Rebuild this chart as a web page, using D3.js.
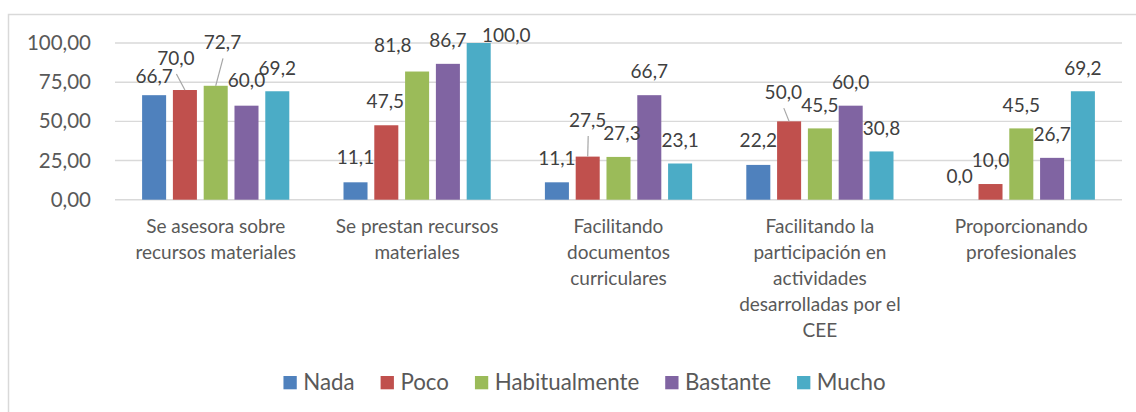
<!DOCTYPE html>
<html>
<head>
<meta charset="utf-8">
<style>
body { margin: 0; background: #fff; }
svg text { font-family: Lato, "Open Sans", sans-serif; }
</style>
</head>
<body>
<svg width="1136" height="412"></svg>
<script src="https://cdn.jsdelivr.net/npm/d3@7/dist/d3.min.js"></script>
<script>

// categories, already split in lines the way the original wraps them
var categoryLines = [
	["Se asesora sobre", "recursos materiales"],
	["Se prestan recursos", "materiales"],
	["Facilitando", "documentos", "curriculares"],
	["Facilitando la", "participación en", "actividades", "desarrolladas por el", "CEE"],
	["Proporcionando", "profesionales"]
];
var categories = categoryLines.map(function(l){ return l.join(" "); });

var series = ["Nada", "Poco", "Habitualmente", "Bastante", "Mucho"];

// values per series, one per category
var nada          = [66.7, 11.1, 11.1, 22.2, 0.0];
var poco          = [70.0, 47.5, 27.5, 50.0, 10.0];
var habitualmente = [72.7, 81.8, 27.3, 45.5, 45.5];
var bastante      = [60.0, 86.7, 66.7, 60.0, 26.7];
var mucho         = [69.2, 100.0, 23.1, 30.8, 69.2];

var yTicks = [0, 25, 50, 75, 100];

var seriesValues = [nada, poco, habitualmente, bastante, mucho];
var colors = ["#4F81BD", "#C0504D", "#9BBB59", "#8064A2", "#4BACC6"];

// labels that excel moved out of the way ("category,series": [dx, dy])
var labelNudge = {
	"0,0": [0, 4.3], "0,1": [-9, -8.5], "0,2": [6.8, -20], "0,3": [0, -2.2],
	"1,0": [0, -1.5], "1,1": [-1, -1], "1,2": [-24.3, -3], "1,4": [27.6, 15.5],
	"2,0": [0, -1], "2,1": [0, -13], "2,2": [3.5, -0.7],
	"3,0": [0, -1], "3,1": [-5.8, -5.7]
};
var leaders = ["0,1", "0,2", "2,1", "3,1"];

var es = d3.formatLocale({decimal: ",", thousands: ".", grouping: [3], currency: ["", " €"]});
var fmtAxis = es.format(".2f");
var fmtLabel = es.format(".1f");

var svg = d3.select("svg");

// chart frame (cut off on the right and bottom like the original)
svg.append("rect")
	.attr("x", 8.5).attr("y", 14.5)
	.attr("width", 1200).attr("height", 500)
	.attr("fill", "none")
	.attr("stroke", "#d9d9d9")
	.attr("stroke-width", 1.5);

var x0 = d3.scaleBand().domain(categories).range([115, 1122]);
var x1 = d3.scaleBand().domain(series).range([0, x0.bandwidth()])
	.paddingInner(0.22).paddingOuter(0.88);
var y = d3.scaleLinear().domain([0, 100]).range([199.7, 43]);

// gridlines
svg.append("g").selectAll("line")
	.data(yTicks)
	.enter().append("line")
	.attr("x1", 115).attr("x2", 1122)
	.attr("y1", function(d){ return y(d); })
	.attr("y2", function(d){ return y(d); })
	.attr("stroke", "#d9d9d9")
	.attr("stroke-width", 1.4);

// y axis labels
var yAxis = svg.append("g")
	.attr("transform", "translate(107,0)")
	.call(d3.axisLeft(y).tickValues(yTicks).tickFormat(fmtAxis).tickSize(0).tickPadding(16));
yAxis.select(".domain").remove();
yAxis.selectAll("text")
	.attr("font-family", "Lato, sans-serif")
	.attr("font-size", "20.5px")
	.attr("fill", "#595959");

// flatten to one record per bar
var bars = [];
categories.forEach(function(c, ci){
	series.forEach(function(s, si){
		bars.push({cat: c, ci: ci, series: s, si: si, value: seriesValues[si][ci]});
	});
});

svg.append("g").selectAll("rect")
	.data(bars)
	.enter().append("rect")
	.attr("x", function(d){ return x0(d.cat) + x1(d.series); })
	.attr("y", function(d){ return y(d.value); })
	.attr("width", x1.bandwidth())
	.attr("height", function(d){ return y(0) - y(d.value); })
	.attr("fill", function(d){ return colors[d.si]; });

// data labels
function labelPos(d){
	var n = labelNudge[d.ci + "," + d.si] || [0, 0];
	var cx = x0(d.cat) + x1(d.series) + x1.bandwidth() / 2;
	return {x: cx + n[0], y: y(d.value) - 23.5 + n[1], bx: cx, by: y(d.value)};
}

svg.append("g").selectAll("line")
	.data(bars.filter(function(d){ return leaders.indexOf(d.ci + "," + d.si) >= 0; }))
	.enter().append("line")
	.attr("x1", function(d){ return labelPos(d).x + 0.5; })
	.attr("y1", function(d){ return labelPos(d).y + 16; })
	.attr("x2", function(d){ return labelPos(d).bx; })
	.attr("y2", function(d){ return labelPos(d).by; })
	.attr("stroke", "#a6a6a6")
	.attr("stroke-width", 1.2);

svg.append("g").selectAll("text")
	.data(bars)
	.enter().append("text")
	.attr("x", function(d){ return labelPos(d).x; })
	.attr("y", function(d){ return labelPos(d).y + 6.8; })
	.attr("text-anchor", "middle")
	.attr("font-size", "19px")
	.attr("fill", "#404040")
	.text(function(d){ return fmtLabel(d.value); });

// category labels
var catText = svg.append("g").selectAll("text")
	.data(categoryLines)
	.enter().append("text")
	.attr("text-anchor", "middle")
	.attr("font-size", "19px")
	.attr("fill", "#595959")
	.attr("transform", function(d, i){ return "translate(" + (x0(categories[i]) + x0.bandwidth() / 2) + ",233)"; });
catText.selectAll("tspan")
	.data(function(d){ return d; })
	.enter().append("tspan")
	.attr("x", 0)
	.attr("y", function(d, i){ return i * 26; })
	.text(function(d){ return d; });

// legend, centred under the chart area
var legend = svg.append("g");
var items = legend.selectAll("g")
	.data(series)
	.enter().append("g");
items.append("rect")
	.attr("width", 13.3).attr("height", 13.3)
	.attr("y", 376)
	.attr("fill", function(d, i){ return colors[i]; });
items.append("text")
	.attr("x", 19.8)
	.attr("y", 390)
	.attr("font-size", "22.3px")
	.attr("fill", "#595959")
	.text(function(d){ return d; });

var pos = 0;
items.each(function(){
	var w = 19.8 + d3.select(this).select("text").node().getComputedTextLength();
	d3.select(this).attr("transform", "translate(" + pos + ",0)");
	pos += w + 26;
});
legend.attr("transform", "translate(" + (584.5 - (pos - 26) / 2) + ",0)");

</script>
</body>
</html>
